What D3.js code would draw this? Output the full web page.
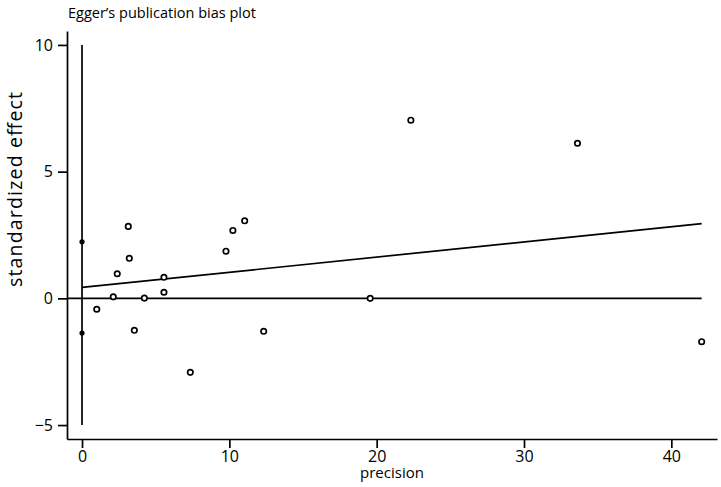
<!DOCTYPE html>
<html>
<head>
<meta charset="utf-8">
<script src="https://cdn.jsdelivr.net/npm/d3@7"></script>
<style>
  html, body { margin: 0; padding: 0; background: #fff; }
  svg text { font-family: "Open Sans", "Noto Sans", sans-serif; fill: #000; }
</style>
</head>
<body>
<svg id="chart" width="721" height="487"></svg>
<script>
// Study precision (1/SE) and standardized effect (effect/SE)
const precision = [1.0, 2.12, 2.39, 3.14, 3.21, 3.55, 4.23, 5.56, 5.56, 7.35, 9.77, 10.24, 11.04, 12.33, 19.56, 22.32, 33.63, 42.06];
const stdEffect = [-0.43, 0.06, 0.97, 2.84, 1.58, -1.26, 0.01, 0.83, 0.24, -2.92, 1.86, 2.68, 3.06, -1.30, 0.0, 7.03, 6.12, -1.71];
// Confidence interval bounds for the intercept (plotted at precision = 0)
const interceptCI = [-1.37, 2.23];
// Egger regression line: intercept and slope
const eggerIntercept = 0.43;
const eggerSlope = 0.0599;
const xTicks = [0, 10, 20, 30, 40];
const yTicks = [-5, 0, 5, 10];
const titleText = "Egger’s publication bias plot";
const xLabel = "precision";
const yLabel = "standardized effect";

const svg = d3.select("#chart");
const mLeft = 67, mRight = 717, mTop = 31, mBottom = 439;

const x = d3.scaleLinear().domain([-1.02, 43.1]).range([mLeft, mRight]);
const y = d3.scaleLinear().domain([-5.55, 10.55]).range([mBottom, mTop]);
const xMax = d3.max(precision);

// Axes
const xAxis = svg.append("g").attr("transform", `translate(0,${mBottom})`)
  .call(d3.axisBottom(x).tickValues(xTicks).tickSize(9).tickPadding(3).tickSizeOuter(0));
const yAxis = svg.append("g").attr("transform", `translate(${mLeft},0)`)
  .call(d3.axisLeft(y).tickValues(yTicks).tickSize(9).tickPadding(5).tickSizeOuter(0)
    .tickFormat(d => d < 0 ? "\u2212" + Math.abs(d) : d));
[xAxis, yAxis].forEach(g => {
  g.select(".domain").attr("stroke", "#000").attr("stroke-width", 1.7);
  g.selectAll(".tick line").attr("stroke", "#000").attr("stroke-width", 1.7);
  g.selectAll(".tick text").attr("font-size", 16).attr("fill", "#000")
    .style("font-family", '"Open Sans", sans-serif');
});

// Vertical line at precision 0
svg.append("line")
  .attr("x1", x(0)).attr("x2", x(0)).attr("y1", y(-5)).attr("y2", y(10))
  .attr("stroke", "#000").attr("stroke-width", 1.7);

// Zero line
svg.append("line")
  .attr("x1", x(-1.02)).attr("x2", x(xMax)).attr("y1", y(0)).attr("y2", y(0))
  .attr("stroke", "#000").attr("stroke-width", 1.7);

// Egger regression line
svg.append("line")
  .attr("x1", x(0)).attr("x2", x(xMax))
  .attr("y1", y(eggerIntercept)).attr("y2", y(eggerIntercept + eggerSlope * xMax))
  .attr("stroke", "#000").attr("stroke-width", 1.7);

// CI points on intercept
svg.selectAll("circle.ci").data(interceptCI).enter().append("circle")
  .attr("class", "ci")
  .attr("cx", x(0)).attr("cy", d => y(d)).attr("r", 2.6).attr("fill", "#000");

// Study points
svg.selectAll("circle.pt").data(precision).enter().append("circle")
  .attr("class", "pt")
  .attr("cx", d => x(d)).attr("cy", (d, i) => y(stdEffect[i]))
  .attr("r", 2.7).attr("fill", "#fff").attr("stroke", "#000").attr("stroke-width", 1.7);

// Title
svg.append("text").attr("x", 68).attr("y", 17.7).attr("font-size", 14.5).text(titleText);

// Axis titles
svg.append("text").attr("x", 392).attr("y", 478).attr("text-anchor", "middle")
  .attr("font-size", 15).text(xLabel);
svg.append("text").attr("transform", "translate(22,189.5) rotate(-90)")
  .attr("text-anchor", "middle").attr("font-size", 19.5)
  .attr("textLength", 195).attr("lengthAdjust", "spacing").text(yLabel);
</script>
</body>
</html>
